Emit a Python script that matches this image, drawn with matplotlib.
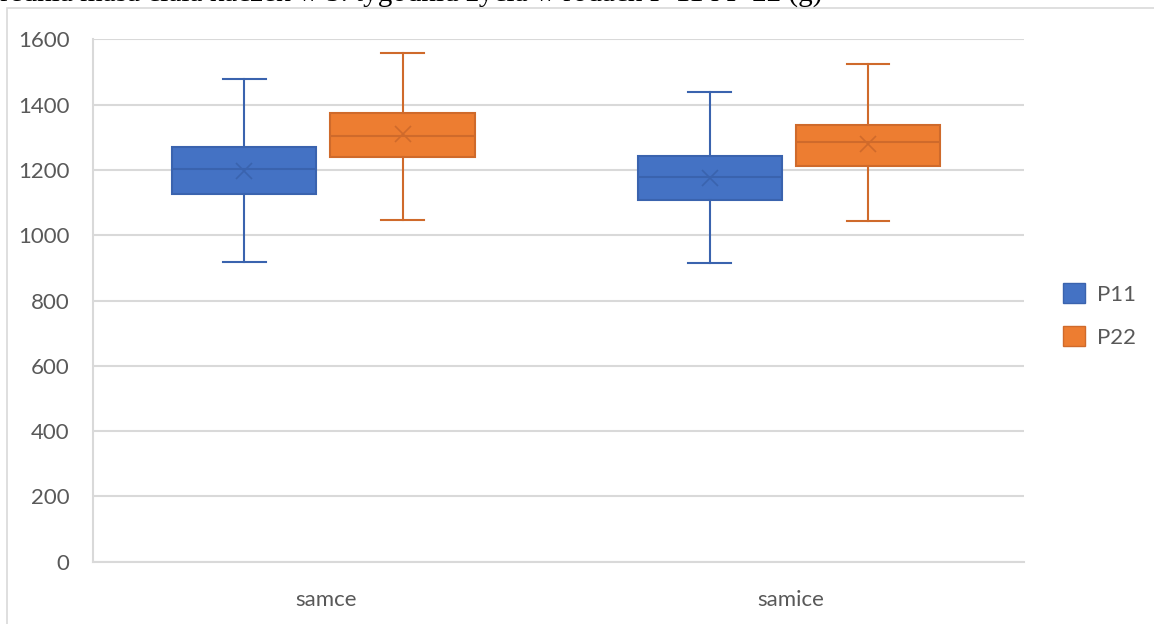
import matplotlib.pyplot as plt
from matplotlib.patches import Patch, Rectangle

# values (g)
groups = ['samce', 'samice']
series = ['P11', 'P22']
whislo = {'P11': [919, 914], 'P22': [1047, 1043]}
q1 = {'P11': [1127, 1108], 'P22': [1239, 1212]}
med = {'P11': [1204, 1178], 'P22': [1304, 1284]}
mean = {'P11': [1198, 1175], 'P22': [1311, 1278]}
q3 = {'P11': [1269, 1243], 'P22': [1374, 1338]}
whishi = {'P11': [1479, 1439], 'P22': [1558, 1524]}
yticks = [0, 200, 400, 600, 800, 1000, 1200, 1400, 1600]

fill = {'P11': '#4472C4', 'P22': '#ED7D31'}
edge = {'P11': '#3A63AE', 'P22': '#CF6A2B'}
offset = {'P11': -0.175, 'P22': 0.165}

fig = plt.figure(figsize=(11.54, 6.24), dpi=100)
ax = fig.add_axes([0.0806, 0.0998, 0.8066, 0.8372])

for s in series:
    stats = []
    for i in range(len(groups)):
        stats.append(dict(whislo=whislo[s][i], q1=q1[s][i], med=med[s][i],
                          q3=q3[s][i], whishi=whishi[s][i], mean=mean[s][i],
                          fliers=[]))
    pos = [i + 0.5 + offset[s] for i in range(len(groups))]
    c = edge[s]
    ax.bxp(stats, positions=pos, widths=0.31, capwidths=0.092,
           patch_artist=True, showmeans=True, manage_ticks=False,
           boxprops=dict(facecolor=fill[s], edgecolor=c, linewidth=1.5),
           medianprops=dict(color=c, linewidth=1.5),
           whiskerprops=dict(color=c, linewidth=1.5),
           capprops=dict(color=c, linewidth=1.5),
           meanprops=dict(marker='x', markeredgecolor=c, markersize=12,
                          markeredgewidth=1.2))

ax.set_xlim(0, 2)
ax.set_ylim(0, 1600)
ax.set_yticks(yticks)
ax.set_xticks([0.5, 1.5])
ax.set_xticklabels(groups)
ax.grid(axis='y', color='#D9D9D9', linewidth=1.5)
ax.set_axisbelow(True)
for side in ['top', 'right']:
    ax.spines[side].set_visible(False)
for side in ['left', 'bottom']:
    ax.spines[side].set_color('#D9D9D9')
    ax.spines[side].set_linewidth(1.5)
ax.tick_params(length=0, labelsize=16, labelcolor='#595959', pad=17)
ax.tick_params(axis='x', pad=20)
for lab in ax.get_xticklabels() + ax.get_yticklabels():
    lab.set_fontfamily('Lato')

handles = [Patch(facecolor=fill[s], edgecolor=edge[s], label=s) for s in series]
leg = fig.legend(handles=handles, loc='upper left', bbox_to_anchor=(0.904, 0.578),
                 frameon=False, handlelength=1.0, handleheight=1.0,
                 labelspacing=0.95, handletextpad=0.5,
                 prop={'family': 'Lato', 'size': 16})
for t in leg.get_texts():
    t.set_color('#595959')

# chart area border (partly cropped)
fig.patches.append(Rectangle((7 / 1154, -0.05), 1.1, 1 - 8 / 624 + 0.05,
                             transform=fig.transFigure, fill=False,
                             edgecolor='#D9D9D9', linewidth=1.2))

# title, cropped at the top of the image as in the source
fig.text(822 / 1154, 1 - 1 / 624,
         'Średnia masa ciała kaczek w 5. tygodniu życia w rodach P-11 i P-22 (g)',
         ha='right', va='baseline', fontsize=21, family='Liberation Serif',
         color='black')

fig.savefig('out.png', dpi=100)
